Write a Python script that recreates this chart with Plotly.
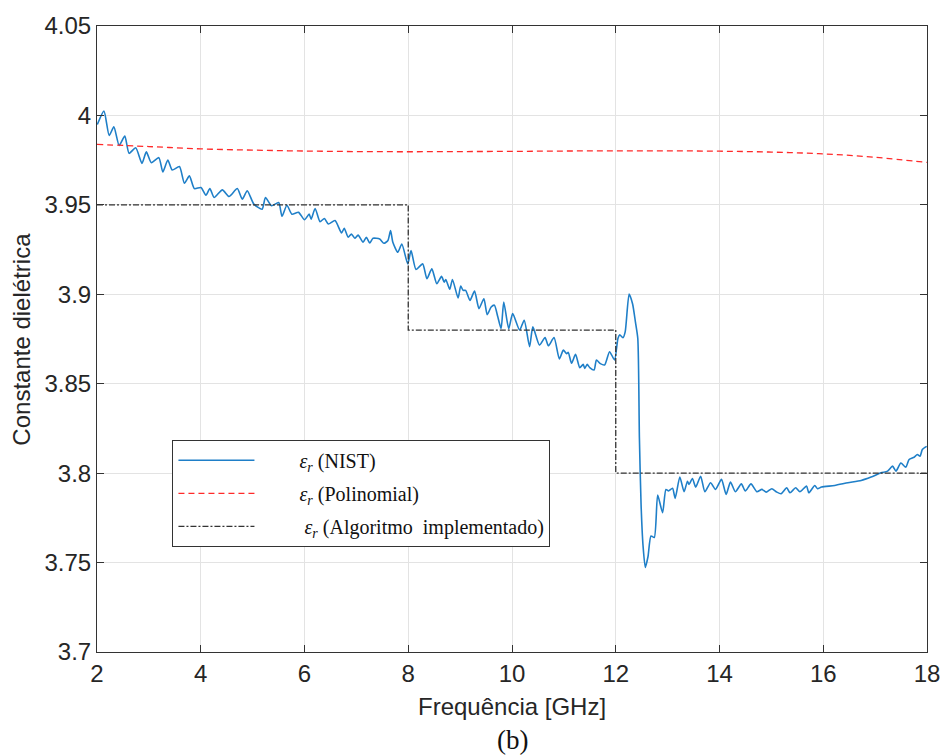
import plotly.graph_objects as go

# ---------------- data ----------------
freq_nist = [2.006, 2.134, 2.235, 2.325, 2.427, 2.536, 2.618, 2.746, 2.867, 2.951,
             3.047, 3.192, 3.269, 3.365, 3.449, 3.589, 3.685, 3.781, 3.876, 4.004,
             4.099, 4.176, 4.258, 4.417, 4.545, 4.704, 4.800, 4.896, 5.024, 5.183,
             5.248, 5.363, 5.502, 5.566, 5.661, 5.757, 5.885, 6.000, 6.090, 6.128,
             6.205, 6.300, 6.383, 6.459, 6.588, 6.714, 6.766, 6.842, 6.905, 6.970,
             7.033, 7.129, 7.192, 7.257, 7.321, 7.449, 7.531, 7.608, 7.659, 7.703,
             7.799, 7.876, 7.990, 8.054, 8.149, 8.278, 8.360, 8.455, 8.551, 8.641,
             8.693, 8.723, 8.800, 8.852, 8.961, 9.011, 9.057, 9.106, 9.190, 9.278,
             9.363, 9.458, 9.522, 9.598, 9.661, 9.726, 9.790, 9.841, 9.937, 10.013,
             10.147, 10.235, 10.339, 10.402, 10.530, 10.637, 10.702, 10.810, 10.913, 10.989,
             11.053, 11.085, 11.148, 11.225, 11.307, 11.372, 11.403, 11.449, 11.499, 11.583,
             11.627, 11.703, 11.786, 11.881, 11.977, 12.042, 12.077, 12.138, 12.182, 12.258,
             12.325, 12.379, 12.425, 12.456, 12.488, 12.526, 12.570, 12.622, 12.679, 12.743,
             12.808, 12.903, 12.967, 13.018, 13.095, 13.145, 13.235, 13.317, 13.382, 13.413,
             13.478, 13.541, 13.636, 13.719, 13.828, 13.923, 14.038, 14.128, 14.211, 14.306,
             14.421, 14.498, 14.607, 14.722, 14.817, 14.900, 15.008, 15.104, 15.187, 15.296,
             15.359, 15.468, 15.550, 15.678, 15.722, 15.837, 15.889, 15.966, 16.220, 16.475,
             16.731, 16.922, 17.114, 17.240, 17.336, 17.401, 17.496, 17.592, 17.655, 17.751,
             17.814, 17.866, 17.910, 17.994]
er_nist = [3.9949, 4.0024, 3.9888, 3.9936, 3.9832, 3.9885, 3.9788, 3.9819, 3.9732, 3.9796,
           3.9736, 3.9764, 3.9684, 3.9751, 3.9695, 3.9714, 3.9621, 3.9662, 3.9591, 3.9597,
           3.9554, 3.9591, 3.9541, 3.9584, 3.9547, 3.9591, 3.9532, 3.9579, 3.9504, 3.9476,
           3.9541, 3.9495, 3.9513, 3.9436, 3.9498, 3.9448, 3.9458, 3.9417, 3.9448, 3.9420,
           3.9480, 3.9406, 3.9424, 3.9393, 3.9412, 3.9343, 3.9369, 3.9319, 3.9337, 3.9313,
           3.9331, 3.9291, 3.9319, 3.9287, 3.9313, 3.9309, 3.9285, 3.9301, 3.9356, 3.9291,
           3.9235, 3.9281, 3.9170, 3.9245, 3.9139, 3.9170, 3.9087, 3.9142, 3.9059, 3.9100,
           3.9068, 3.9083, 3.9028, 3.9083, 3.8979, 3.9046, 3.9022, 3.9022, 3.8966, 3.9018,
           3.8920, 3.8975, 3.8886, 3.8929, 3.8939, 3.8874, 3.8808, 3.8957, 3.8808, 3.8892,
           3.8800, 3.8855, 3.8707, 3.8818, 3.8716, 3.8758, 3.8712, 3.8758, 3.8638, 3.8688,
           3.8668, 3.8675, 3.8614, 3.8664, 3.8590, 3.8608, 3.8586, 3.8608, 3.8590, 3.8577,
           3.8633, 3.8612, 3.8605, 3.8679, 3.8633, 3.8753, 3.8773, 3.8757, 3.8790, 3.9002,
           3.8946, 3.8846, 3.8753, 3.8196, 3.7826, 3.7594, 3.7473, 3.7534, 3.7649, 3.7640,
           3.7877, 3.7779, 3.7909, 3.7900, 3.7915, 3.7859, 3.7978, 3.7896, 3.7955, 3.7937,
           3.7970, 3.7922, 3.7983, 3.7896, 3.7946, 3.7909, 3.7965, 3.7881, 3.7950, 3.7896,
           3.7940, 3.7900, 3.7940, 3.7896, 3.7909, 3.7894, 3.7913, 3.7894, 3.7885, 3.7918,
           3.7890, 3.7918, 3.7896, 3.7928, 3.7890, 3.7931, 3.7913, 3.7922, 3.7931, 3.7946,
           3.7959, 3.7978, 3.8002, 3.8011, 3.8039, 3.8011, 3.8057, 3.8033, 3.8076, 3.8089,
           3.8104, 3.8094, 3.8132, 3.8150]

freq_poly = [2, 3, 4, 5, 6, 7, 8, 9, 10, 11, 12, 13, 14, 15, 16, 17, 18]
er_poly = [3.9838, 3.9826, 3.9813, 3.9806, 3.9801, 3.9798, 3.9797, 3.9798, 3.9799,
           3.9801, 3.9802, 3.9802, 3.9800, 3.9795, 3.9785, 3.9766, 3.9737]

freq_alg = [2, 8, 8, 12, 12, 18]
er_alg = [3.95, 3.95, 3.88, 3.88, 3.80, 3.80]

x_ticks = [2, 4, 6, 8, 10, 12, 14, 16, 18]
y_ticks = [3.7, 3.75, 3.8, 3.85, 3.9, 3.95, 4.0, 4.05]
y_ticklabels = ["3.7", "3.75", "3.8", "3.85", "3.9", "3.95", "4", "4.05"]

pad = "\u00a0" * 8
names = [pad + "<i>ε</i><sub><i>r</i></sub> (NIST)",
         pad + "<i>ε</i><sub><i>r</i></sub> (Polinomial)",
         pad + "\u00a0<i>ε</i><sub><i>r</i></sub> (Algoritmo\u00a0 implementado)"]
x_title = "Frequência [GHz]"
y_title = "Constante dielétrica"
caption = "(b)"

# ---------------- figure ----------------
fig = go.Figure()
fig.add_trace(go.Scatter(x=freq_nist, y=er_nist, mode="lines", name=names[0],
                         legendgroup="a",
                         line=dict(color="#1f7fc8", width=1.6, shape="spline", smoothing=0.6)))
fig.add_trace(go.Scatter(x=freq_poly, y=er_poly, mode="lines", name=names[1],
                         legendgroup="b",
                         line=dict(color="#ff2a2a", width=1.3, dash="6px,4px", shape="spline")))
fig.add_trace(go.Scatter(x=freq_alg, y=er_alg, mode="lines", name=names[2],
                         legendgroup="c",
                         line=dict(color="#333333", width=1.3, dash="6px,2px,2px,2px")))

axis_common = dict(showgrid=True, gridcolor="#e3e3e3", gridwidth=1,
                   showline=True, linecolor="#333333", linewidth=1, mirror="ticks",
                   ticks="inside", ticklen=7, tickcolor="#333333", zeroline=False,
                   tickfont=dict(family="Liberation Sans, Arial", size=24, color="#262626"))

fig.update_xaxes(range=[2, 18], tickvals=x_ticks, ticktext=[str(v) for v in x_ticks],
                 **axis_common)
fig.update_yaxes(range=[3.7, 4.05], tickvals=y_ticks, ticktext=y_ticklabels,
                 **axis_common)

fig.update_layout(
    width=952, height=756,
    margin=dict(l=97, r=19, t=23, b=104),
    paper_bgcolor="white", plot_bgcolor="white",
    showlegend=True,
    legend=dict(x=0.0909, y=0.339, xanchor="left", yanchor="top",
                bgcolor="white", bordercolor="#333333", borderwidth=1,
                font=dict(family="Liberation Serif, Times New Roman", size=20, color="#111111"),
                itemwidth=76, tracegroupgap=4, traceorder="grouped"),
    annotations=[
        dict(text=x_title, xref="paper", yref="paper", x=0.5, y=-0.087,
             xanchor="center", yanchor="middle", showarrow=False,
             font=dict(family="Liberation Sans, Arial", size=24, color="#262626")),
        dict(text=caption, xref="paper", yref="paper", x=0.5, y=-0.141,
             xanchor="center", yanchor="middle", showarrow=False,
             font=dict(family="Liberation Serif, Times New Roman", size=27, color="#111111")),
        dict(text=y_title, xref="paper", yref="paper", x=-0.092, y=0.5,
             xanchor="center", yanchor="middle", showarrow=False, textangle=-90,
             font=dict(family="Liberation Sans, Arial", size=24, color="#262626")),
    ],
)

fig.write_html("out.html")
